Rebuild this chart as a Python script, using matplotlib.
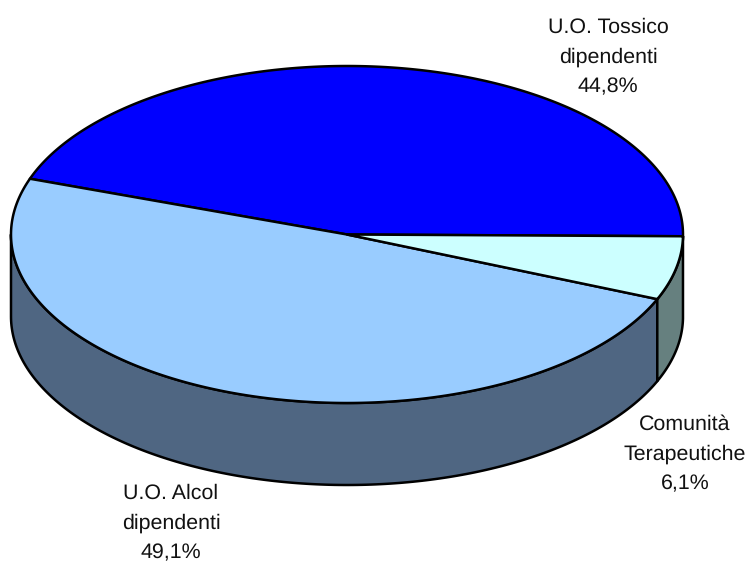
import numpy as np
import matplotlib
matplotlib.use("Agg")
import matplotlib.pyplot as plt
from matplotlib.patches import Polygon

plt.rcParams['font.family'] = ['Liberation Sans', 'DejaVu Sans']
plt.rcParams['text.hinting'] = 'none'

labels = ["U.O. Tossico\ndipendenti\n44,8%", "U.O. Alcol\ndipendenti\n49,1%", "Comunità\nTerapeutiche\n6,1%"]
shares = [44.8, 49.1, 6.1]
top_colors = ["#0000ff", "#99ccff", "#ccffff"]
side_colors = ["#00007a", "#4f6682", "#66807f"]
label_pos = [(608, 57), (171, 523), (685, 454)]

cx, cy = 347, 234.5
rx, ry = 336, 168.5
depth = 82
start = -0.6


def ell(a, dy=0):
    a = np.radians(a)
    return np.column_stack([cx + rx * np.cos(a), cy - ry * np.sin(a) + dy])


fig = plt.figure(figsize=(7.5, 5.64), dpi=100)
ax = fig.add_axes([0, 0, 1, 1])
ax.set_xlim(0, 750)
ax.set_ylim(564, 0)
ax.axis('off')

edges = start + np.cumsum([0] + shares) * 3.6

# side wall, only the front half shows
for i in range(len(shares)):
    a0 = max(edges[i], 180)
    a1 = min(edges[i + 1], 360)
    if a1 <= a0:
        continue
    t = np.linspace(a0, a1, 200)
    pts = np.vstack([ell(t), ell(t[::-1], depth)])
    ax.add_patch(Polygon(pts, closed=True, fc=side_colors[i], ec='black', lw=1.8, joinstyle='round'))

# top face
for i in range(len(shares)):
    t = np.linspace(edges[i], edges[i + 1], 300)
    pts = np.vstack([[[cx, cy]], ell(t)])
    ax.add_patch(Polygon(pts, closed=True, fc=top_colors[i], ec='black', lw=1.8, joinstyle='round'))

for lab, (x, y) in zip(labels, label_pos):
    ax.text(x, y, lab, ha='center', va='center', fontsize=15.4, color='#111111', linespacing=1.68)

fig.savefig("out.png", dpi=100)
